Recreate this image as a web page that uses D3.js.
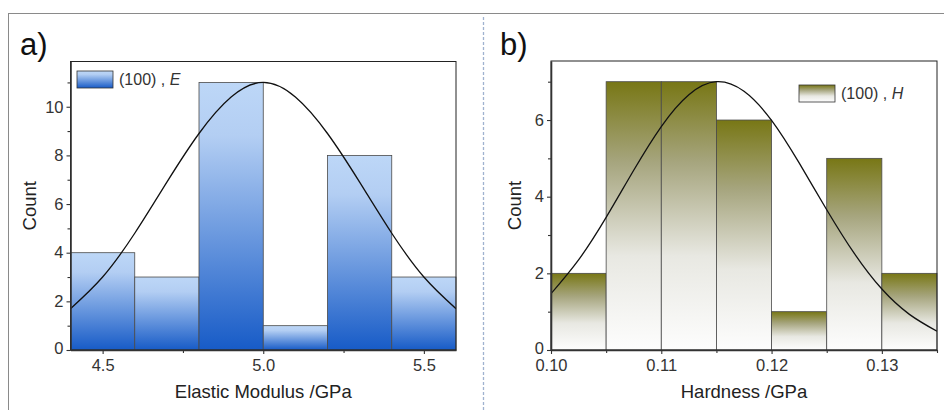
<!DOCTYPE html>
<html>
<head>
<meta charset="utf-8">
<script src="https://cdn.jsdelivr.net/npm/d3@7/dist/d3.min.js"></script>
<style>
  body { margin: 0; background: #fff; }
  text { font-family: "Liberation Sans", Arial, sans-serif; }
</style>
</head>
<body>
<svg width="944" height="410"></svg>
<script>
// panel a) elastic modulus
var edgesE = [4.4, 4.6, 4.8, 5.0, 5.2, 5.4, 5.6];
var countsE = [4, 3, 11, 1, 8, 3];
var fitXE = [4.4, 4.5, 4.6, 4.7, 4.8, 4.9, 5.0, 5.1, 5.2, 5.3, 5.4, 5.5, 5.6];
var fitYE = [1.7, 3.0, 4.8, 6.9, 8.9, 10.4, 11.0, 10.4, 8.9, 6.9, 4.8, 3.0, 1.7];
var xTicksE = [4.5, 5.0, 5.5];
var xMinorE = [4.75, 5.25];
var yTicksE = [0, 2, 4, 6, 8, 10];
var yMinorE = [1, 3, 5, 7, 9, 11];

// panel b) hardness
var edgesH = [0.100, 0.105, 0.110, 0.115, 0.120, 0.125, 0.130, 0.135];
var countsH = [2, 7, 7, 6, 1, 5, 2];
var fitXH = [0.1, 0.1025, 0.105, 0.1075, 0.11, 0.1125, 0.115, 0.1175, 0.12, 0.1225, 0.125, 0.1275, 0.13, 0.1325, 0.135];
var fitYH = [1.47, 2.35, 3.46, 4.69, 5.83, 6.66, 7.0, 6.75, 5.99, 4.88, 3.66, 2.52, 1.59, 0.93, 0.49];
var xTicksH = [0.10, 0.11, 0.12, 0.13];
var xMinorH = [0.105, 0.115, 0.125, 0.135];
var yTicksH = [0, 2, 4, 6];
var yMinorH = [1, 3, 5, 7];

var svg = d3.select("svg");
var defs = svg.append("defs");

var gradA = defs.append("linearGradient").attr("id", "gradA")
    .attr("x1", 0).attr("y1", 0).attr("x2", 0).attr("y2", 1);
gradA.append("stop").attr("offset", "0").attr("stop-color", "#bdd7f7");
gradA.append("stop").attr("offset", "0.2").attr("stop-color", "#b3cef3");
gradA.append("stop").attr("offset", "1").attr("stop-color", "#175bc7");

var gradB = defs.append("linearGradient").attr("id", "gradB")
    .attr("x1", 0).attr("y1", 0).attr("x2", 0).attr("y2", 1);
gradB.append("stop").attr("offset", "0").attr("stop-color", "#787715");
gradB.append("stop").attr("offset", "0.3").attr("stop-color", "#a6a57e");
gradB.append("stop").attr("offset", "0.65").attr("stop-color", "#e8e8e2");
gradB.append("stop").attr("offset", "1").attr("stop-color", "#fdfdfd");

// outer frame + divider
svg.append("rect").attr("x", 8.5).attr("y", 13.5).attr("width", 960).attr("height", 420)
    .attr("fill", "none").attr("stroke", "#8a8a8a").attr("stroke-width", 1);
svg.append("line").attr("x1", 483.5).attr("x2", 483.5).attr("y1", 17).attr("y2", 410)
    .attr("stroke", "#9fb2cf").attr("stroke-width", 1.3).attr("stroke-dasharray", "3,2");

function drawPanel(p) {
    var g = svg.append("g");
    var x = d3.scaleLinear().domain(p.xDomain).range([p.left, p.right]);
    var y = d3.scaleLinear().domain(p.yDomain).range([p.bottom, p.top]);

    var clipId = "clip" + p.name;
    defs.append("clipPath").attr("id", clipId).append("rect")
        .attr("x", p.left).attr("y", p.top)
        .attr("width", p.right - p.left).attr("height", p.bottom - p.top);

    var bins = p.counts.map(function(c, i) { return {x0: p.edges[i], x1: p.edges[i + 1], n: c}; });
    g.selectAll(".bar").data(bins).enter().append("rect")
        .attr("x", function(d) { return x(d.x0); })
        .attr("y", function(d) { return y(d.n); })
        .attr("width", function(d) { return x(d.x1) - x(d.x0); })
        .attr("height", function(d) { return y(0) - y(d.n); })
        .attr("fill", "url(#" + p.grad + ")")
        .attr("stroke", "#4a4a4a").attr("stroke-width", 0.8);

    var line = d3.line()
        .x(function(d, i) { return x(p.fitX[i]); })
        .y(function(d) { return y(d); })
        .curve(d3.curveNatural);
    g.append("path").datum(p.fitY)
        .attr("clip-path", "url(#" + clipId + ")")
        .attr("d", line).attr("fill", "none")
        .attr("stroke", "#111").attr("stroke-width", 1.3);

    // frame
    g.append("rect").attr("x", p.left).attr("y", p.top)
        .attr("width", p.right - p.left).attr("height", p.bottom - p.top)
        .attr("fill", "none").attr("stroke", "#222").attr("stroke-width", 1);

    var xAxis = g.append("g").attr("transform", "translate(0," + p.bottom + ")")
        .call(d3.axisBottom(x).tickValues(p.xTicks).tickFormat(p.xFmt)
            .tickSize(4).tickSizeOuter(0).tickPadding(5));
    g.append("g").attr("transform", "translate(0," + p.bottom + ")")
        .call(d3.axisBottom(x).tickValues(p.xMinor).tickFormat("").tickSize(3).tickSizeOuter(0))
        .select(".domain").remove();
    var yAxis = g.append("g").attr("transform", "translate(" + p.left + ",0)")
        .call(d3.axisLeft(y).tickValues(p.yTicks).tickFormat(d3.format("d"))
            .tickSize(4).tickSizeOuter(0).tickPadding(3));
    g.append("g").attr("transform", "translate(" + p.left + ",0)")
        .call(d3.axisLeft(y).tickValues(p.yMinor).tickFormat("").tickSize(3).tickSizeOuter(0))
        .select(".domain").remove();

    [xAxis, yAxis].forEach(function(a) {
        a.select(".domain").attr("stroke", "#333").attr("stroke-width", 1.6);
        a.selectAll("text").attr("font-size", 16.5).attr("fill", "#333")
            .attr("font-family", "'Liberation Sans', Arial, sans-serif");
    });
    // lift the "0" count label a touch so it clears the first x label
    yAxis.selectAll(".tick text").filter(function(d) { return d === 0; }).attr("dy", "0.2em");
    g.selectAll(".tick line").attr("stroke", "#333").attr("stroke-width", 1.1);

    g.append("text").attr("x", (p.left + p.right) / 2).attr("y", p.bottom + 48)
        .attr("text-anchor", "middle").attr("font-size", 18.5).attr("fill", "#222")
        .text(p.xTitle);
    g.append("text")
        .attr("transform", "translate(" + p.yTitleX + "," + (p.top + p.bottom) / 2 + ") rotate(-90)")
        .attr("text-anchor", "middle").attr("font-size", 18.5).attr("fill", "#222")
        .text("Count");

    g.append("text").attr("x", p.labelX).attr("y", 55)
        .attr("font-family", "Lato, 'Open Sans', sans-serif")
        .attr("font-size", 31).attr("fill", "#111").text(p.name + ")");

    // legend
    g.append("rect").attr("x", p.legX).attr("y", p.legY).attr("width", 36).attr("height", 17)
        .attr("fill", "url(#" + p.grad + ")").attr("stroke", "#333").attr("stroke-width", 0.8);
    var lt = g.append("text").attr("x", p.legX + 42).attr("y", p.legY + 14)
        .attr("font-size", 16).attr("fill", "#333");
    lt.append("tspan").text("(100) , ");
    lt.append("tspan").attr("font-style", "italic").text(p.legVar);
}

drawPanel({
    name: "a", grad: "gradA",
    left: 70.5, right: 456, top: 61.5, bottom: 350,
    xDomain: [4.4, 5.6], yDomain: [0, 11.86],
    edges: edgesE, counts: countsE, fitX: fitXE, fitY: fitYE,
    xTicks: xTicksE, xMinor: xMinorE, yTicks: yTicksE, yMinor: yMinorE,
    xFmt: d3.format(".1f"),
    xTitle: "Elastic Modulus /GPa", yTitleX: 36, labelX: 20,
    legX: 77, legY: 71, legVar: "E"
});

drawPanel({
    name: "b", grad: "gradB",
    left: 551, right: 937, top: 61, bottom: 350,
    xDomain: [0.100, 0.135], yDomain: [0, 7.54],
    edges: edgesH, counts: countsH, fitX: fitXH, fitY: fitYH,
    xTicks: xTicksH, xMinor: xMinorH, yTicks: yTicksH, yMinor: yMinorH,
    xFmt: d3.format(".2f"),
    xTitle: "Hardness /GPa", yTitleX: 521, labelX: 500,
    legX: 799, legY: 85, legVar: "H"
});
</script>
</body>
</html>
